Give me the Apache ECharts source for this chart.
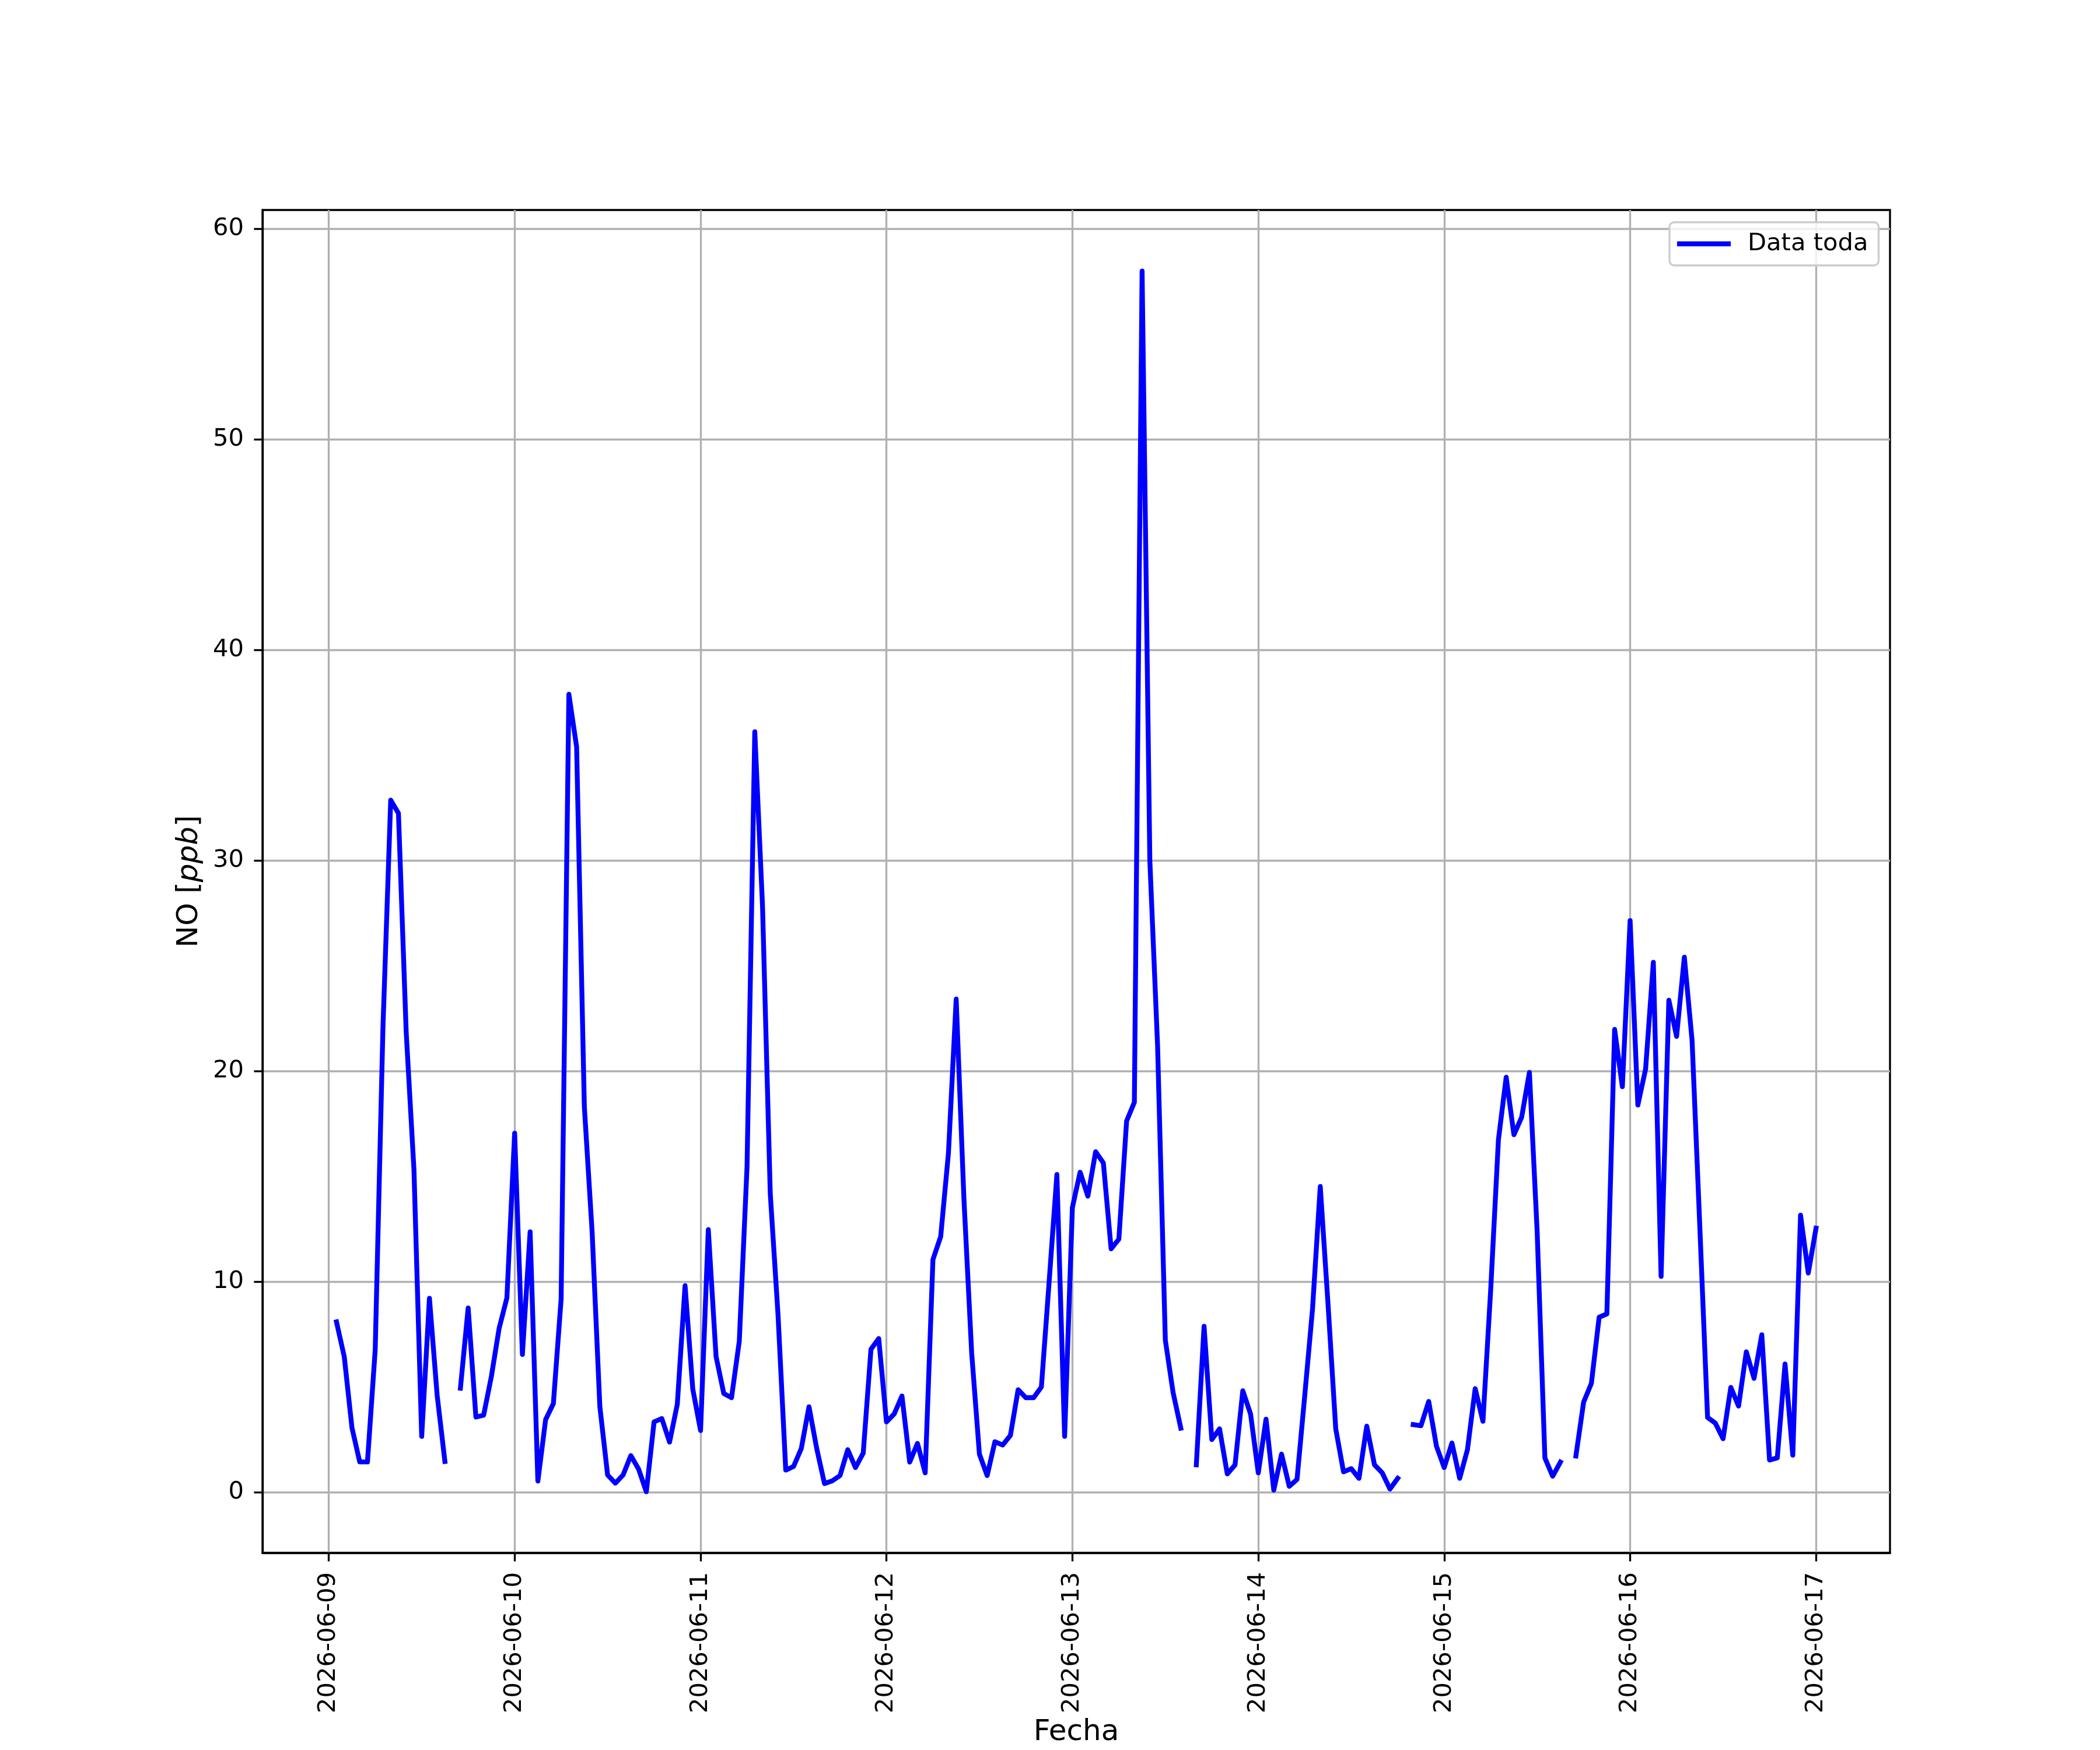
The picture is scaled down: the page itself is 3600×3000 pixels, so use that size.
<!DOCTYPE html>
<html>
<head>
<meta charset="utf-8">
<script src="https://cdn.jsdelivr.net/npm/echarts@6/dist/echarts.min.js"></script>
<style>
html,body{margin:0;padding:0;background:#ffffff;}
#chart{width:3600px;height:3000px;}
</style>
</head>
<body>
<div id="chart"></div>
<script>
// Hourly NO samples; first sample is 2026-06-09 01:00, one value per hour (null = missing)
const firstSample = { year: 2026, month: 6, day: 9, hour: 1 };
const day0609 = [8.09, 6.45, 3.06, 1.44, 1.44, 6.77, 22.08, 32.87, 32.25, 21.85, 15.34, 2.65,
                 9.21, 4.59, 1.46, null, 4.94, 8.75, 3.57, 3.66, 5.51, 7.79, 9.23, 17.05];
const day0610 = [6.54, 12.37, 0.53, 3.45, 4.21, 9.17, 37.9, 35.4, 18.3, 12.37, 4.07, 0.82,
                 0.43, 0.82, 1.74, 1.10, 0.02, 3.34, 3.50, 2.38, 4.18, 9.81, 4.89, 2.93];
const day0611 = [12.47, 6.45, 4.69, 4.49, 7.17, 15.46, 36.12, 27.83, 14.18, 8.44, 1.05, 1.22,
                 2.07, 4.06, 2.07, 0.41, 0.54, 0.79, 2.02, 1.17, 1.86, 6.79, 7.30, 3.34];
const day0612 = [3.72, 4.57, 1.43, 2.32, 0.92, 11.05, 12.14, 16.10, 23.42, 13.93, 6.61, 1.81,
                 0.79, 2.40, 2.24, 2.70, 4.87, 4.49, 4.49, 5.0, 10.0, 15.09, 2.65, 13.52];
const day0613 = [15.2, 14.06, 16.17, 15.64, 11.56, 12.02, 17.63, 18.52, 58.0, 30.0, 21.2, 7.22,
                 4.74, 3.04, null, 1.30, 7.88, 2.5, 3.01, 0.87, 1.30, 4.82, 3.72, 0.92];
const day0614 = [3.47, 0.1, 1.81, 0.28, 0.61, 4.6, 8.7, 14.52, 8.95, 3.01, 0.97, 1.12,
                 0.66, 3.14, 1.30, 0.92, 0.15, 0.66, null, 3.21, 3.16, 4.31, 2.19, 1.17];
const day0615 = [2.34, 0.66, 2.02, 4.92, 3.37, 9.6, 16.74, 19.71, 16.98, 17.81, 19.94, 12.38,
                 1.63, 0.76, 1.43, null, 1.72, 4.28, 5.17, 8.31, 8.47, 21.98, 19.26, 27.15];
const day0616 = [18.39, 20.10, 25.17, 10.25, 23.37, 21.65, 25.41, 21.45, 12.6, 3.55, 3.28, 2.54,
                 4.98, 4.09, 6.67, 5.41, 7.48, 1.53, 1.63, 6.09, 1.76, 13.16, 10.41, 12.54];

const xTickLabels = ['2026-06-09', '2026-06-10', '2026-06-11', '2026-06-12', '2026-06-13',
                     '2026-06-14', '2026-06-15', '2026-06-16', '2026-06-17'];
const yTickValues = [0, 10, 20, 30, 40, 50, 60];
const seriesName = 'Data toda';
const xTitle = 'Fecha';

// ---- build ----
const allValues = [].concat(day0609, day0610, day0611, day0612, day0613, day0614, day0615, day0616);
const points = allValues.map((v, i) => [
  new Date(firstSample.year, firstSample.month - 1, firstSample.day, firstSample.hour + i).getTime(), v
]);
const xTickValues = xTickLabels.map(s => {
  const p = s.split('-').map(Number);
  return new Date(p[0], p[1] - 1, p[2]).getTime();
});

// matplotlib-like autoscale with 5% margins
const tFirst = points[0][0], tLast = points[points.length - 1][0];
const tPad = 0.05 * (tLast - tFirst);
const finite = allValues.filter(v => v !== null);
const vMin = Math.min.apply(null, finite), vMax = Math.max.apply(null, finite);
const vPad = 0.05 * (vMax - vMin);

const PT = 300 / 72;
const FONT = 'DejaVu Sans';
const pad2 = n => (n < 10 ? '0' : '') + n;

const chart = echarts.init(document.getElementById('chart'), null, { renderer: 'canvas', width: 3600, height: 3000 });
chart.setOption({
  animation: false,
  backgroundColor: '#ffffff',
  textStyle: { fontFamily: FONT },
  grid: {
    left: 450, right: 360, top: 360, bottom: 330,
    show: true, borderColor: '#000000', borderWidth: 0.8 * PT, backgroundColor: 'transparent'
  },
  legend: {
    show: true,
    left: 2862, top: 381,
    padding: [16, 18, 16, 13],
    icon: 'rect', itemWidth: 92, itemHeight: 2 * PT,
    backgroundColor: 'rgba(255,255,255,0.8)',
    borderColor: '#cccccc', borderWidth: 0.8 * PT, borderRadius: 8,
    textStyle: { fontSize: 10 * PT, color: '#000000', fontFamily: FONT, padding: [0, 0, 0, 24] },
    itemStyle: { color: '#0000ff', borderWidth: 0 },
    data: [seriesName]
  },
  xAxis: {
    type: 'value',
    min: tFirst - tPad, max: tLast + tPad,
    name: xTitle, nameLocation: 'middle', nameGap: 275,
    nameTextStyle: { fontSize: 12 * PT, color: '#000000', fontFamily: FONT },
    axisLine: { show: true, onZero: false, lineStyle: { color: '#000000', width: 0.8 * PT } },
    axisTick: { show: true, inside: false, length: 3.5 * PT, lineStyle: { color: '#000000', width: 0.8 * PT }, customValues: xTickValues },
    axisLabel: {
      show: true, customValues: xTickValues, rotate: 90, margin: 33,
      fontSize: 10 * PT, color: '#000000', fontFamily: FONT,
      formatter: function (val) {
        const d = new Date(val);
        return d.getFullYear() + '-' + pad2(d.getMonth() + 1) + '-' + pad2(d.getDate());
      }
    },
    splitLine: { show: true, lineStyle: { color: '#b0b0b0', width: 0.8 * PT } }
  },
  yAxis: {
    type: 'value',
    min: vMin - vPad, max: vMax + vPad,
    name: '{n|NO [}{i|ppb}{n|]}', nameLocation: 'middle', nameGap: 100, nameRotate: 90,
    nameTextStyle: {
      fontSize: 12 * PT, color: '#000000', fontFamily: FONT,
      rich: {
        n: { fontSize: 12 * PT, color: '#000000', fontFamily: FONT },
        i: { fontSize: 12 * PT, color: '#000000', fontFamily: FONT, fontStyle: 'italic' }
      }
    },
    axisLine: { show: true, onZero: false, lineStyle: { color: '#000000', width: 0.8 * PT } },
    axisTick: { show: true, inside: false, length: 3.5 * PT, lineStyle: { color: '#000000', width: 0.8 * PT }, customValues: yTickValues },
    axisLabel: { show: true, customValues: yTickValues, margin: 32, fontSize: 10 * PT, color: '#000000', fontFamily: FONT },
    splitLine: { show: true, lineStyle: { color: '#b0b0b0', width: 0.8 * PT } }
  },
  series: [{
    type: 'line',
    name: seriesName,
    data: points,
    showSymbol: false,
    symbol: 'none',
    connectNulls: false,
    silent: true,
    lineStyle: { color: '#0000ff', width: 2 * PT, join: 'round', cap: 'square' },
    itemStyle: { color: '#0000ff' },
    emphasis: { disabled: true }
  }]
});
</script>
</body>
</html>
